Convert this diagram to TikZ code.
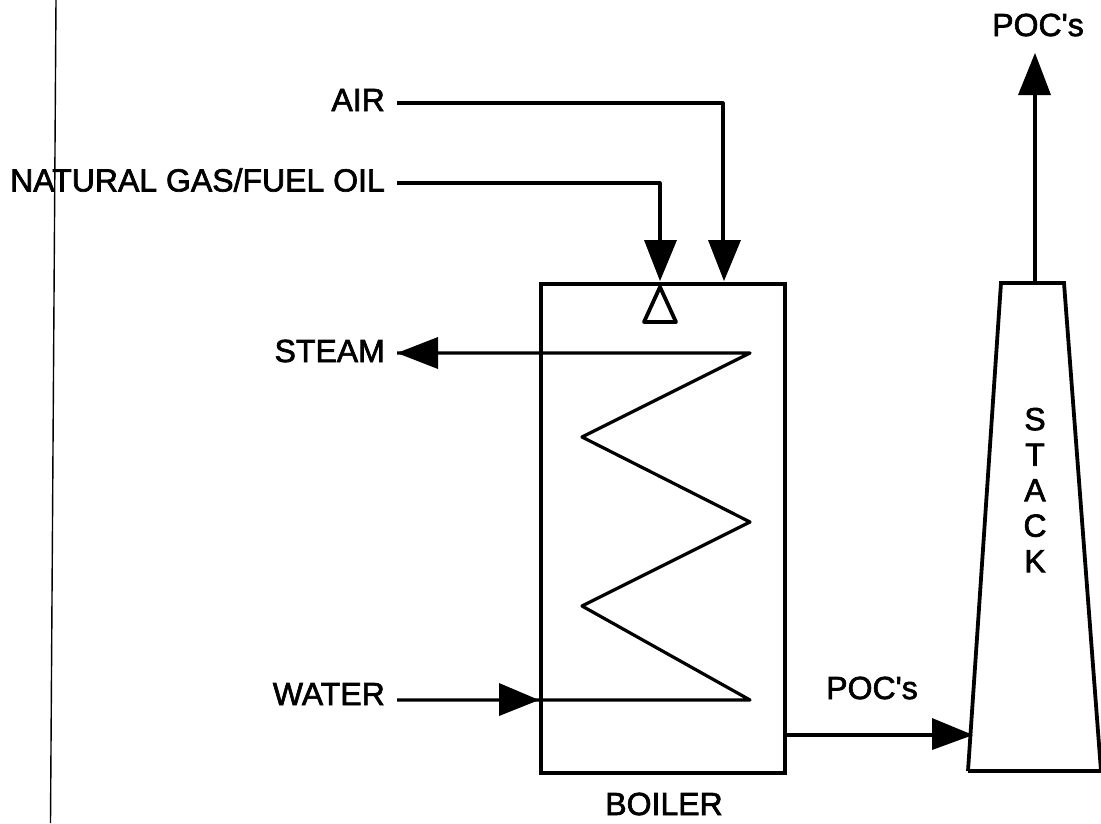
\documentclass[tikz,border=0pt]{standalone}
\usepackage{fontspec}
\newfontfamily\plainsans{Liberation Sans}[FakeBold=2]
\tikzset{
 px/.style={x=1pt,y=-1pt},
 lbl/.style={inner sep=0pt,font=\plainsans\fontsize{32}{35.5}\selectfont},
 ln/.style={line width=3.8pt,line cap=butt,line join=miter},
 thinln/.style={line width=3.2pt,line cap=butt,line join=round},
}
\begin{document}
\begin{tikzpicture}[px]
\useasboundingbox (0,0) rectangle (1101,823);
\fill[white] (0,0) rectangle (1101,823);
% left scan line
\coordinate (scantop) at (56,0);
\coordinate (scanbot) at (50.5,823);
\draw[line width=1.4pt] (scantop) -- (scanbot);
% labels
\node[lbl,anchor=east] (air) at (385,100) {AIR};
\node[lbl,anchor=east] (gas) at (385,180) {NATURAL GAS/FUEL OIL};
\node[lbl,anchor=east] (steam) at (385,351) {STEAM};
\node[lbl,anchor=east] (water) at (385,694) {WATER};
\node[lbl] (poctop) at (1038,25) {POC's};
\node[lbl] (pocmid) at (872,688) {POC's};
\node[lbl] (boilerlab) at (664,804) {BOILER};
\node[lbl,align=center] (stacklab) at (1035,490) {S\\T\\A\\C\\K};
% boiler
\node[draw,ln,minimum width=244pt,minimum height=489pt,inner sep=0pt] (boiler) at (663,528.5) {};
% stack
\draw[ln] (968,771) -- (1001,283) -- (1064,283) -- (1101,771);
\draw[ln] (968,771) -- (1101,771);
\coordinate (stacktop) at (1035,283);
\coordinate (stackout) at (1035,53);
\coordinate (airstart) at (397,103);
\coordinate (gasstart) at (397,183);
\coordinate (steamend) at (397,353);
\coordinate (waterstart) at (397,700);
% coil
\draw[thinln] (steamend) -- (750,353) -- (582,437) -- (750,522) -- (582,606) -- (750,700) -- (waterstart);
% burner triangle
\draw[ln,line join=round] (660,287) -- (644,322) -- (676,322) -- cycle;
% air, gas
\draw[thinln] (airstart) -- (723,103) -- (723,245);
\draw[thinln] (gasstart) -- (660,183) -- (660,245);
% boiler to stack
\draw[thinln] (boiler.east |- 0,735) -- (935,735);
\draw[thinln] (stacktop) -- (stackout |- 0,92);
% arrowheads
\fill (660,281) -- (644,240) -- (677,240) -- cycle;
\fill (724,281) -- (708,240) -- (741,240) -- cycle;
\fill (steamend) -- (438,337) -- (438,369) -- cycle;
\fill (539,700) -- (499,683) -- (499,716) -- cycle;
\fill (973,735) -- (932,718) -- (932,750) -- cycle;
\fill (stackout) -- (1018,95) -- (1051,95) -- cycle;
\end{tikzpicture}
\end{document}
